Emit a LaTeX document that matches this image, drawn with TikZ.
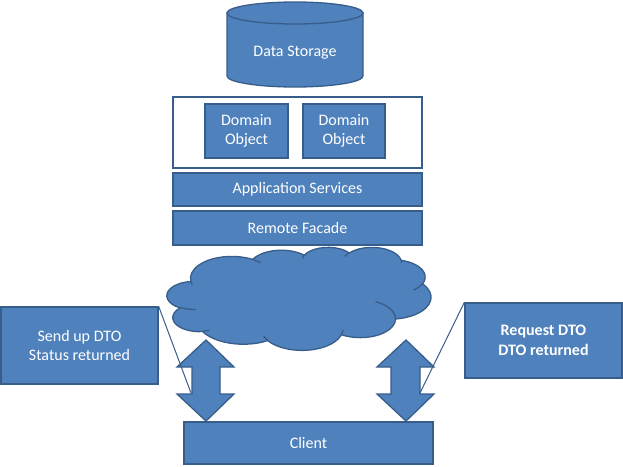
\documentclass[tikz,border=0pt]{standalone}
\usepackage{fontspec}
\setmainfont{Carlito}
\definecolor{fillb}{HTML}{4F81BD}
\definecolor{lineb}{HTML}{385D8A}
\begin{document}
\begin{tikzpicture}[x=1pt,y=-1pt,
  txt/.style={font=\fontsize{16}{19.5}\selectfont, text=white, align=center},
  box/.style={draw=lineb, fill=fillb, line width=1.3pt, txt, inner sep=0pt},
  frame/.style={draw=lineb, fill=white, line width=1.6pt, inner sep=0pt},
  shapeb/.style={draw=lineb, fill=fillb, line width=1.3pt},
  callline/.style={draw=lineb, line width=1pt},
  oarc/.style n args={4}{insert path={arc[start angle={atan2(#1*sin(#3),#2*cos(#3))}, delta angle={Mod(atan2(#1*sin(#3+#4),#2*cos(#3+#4))-atan2(#1*sin(#3),#2*cos(#3)),360)}, x radius=#1, y radius=#2]}}]
\useasboundingbox (0,0) rectangle (623,466);
% data storage cylinder
\filldraw[shapeb] (227,13) -- (227,76) arc[start angle=180, end angle=0, x radius=68, y radius=11] -- (363,13) -- cycle;
\filldraw[shapeb] (295,13) ellipse [x radius=68, y radius=11];
\node[txt] (ds) at (295,53) {Data Storage};
% domain layer
\node[frame, minimum width=249pt, minimum height=71pt] (dom) at (297.5,132.5) {};
\node[box, minimum width=83pt, minimum height=54pt] (d1) at (246.5,131) {Domain\\Object};
\node[box, minimum width=82pt, minimum height=54pt] (d2) at (344,131) {Domain\\Object};
\node[box, minimum width=249pt, minimum height=33pt] (app) at (297.5,189.5) {Application Services};
\node[box, minimum width=249pt, minimum height=34pt] (rf) at (297.5,228) {Remote Facade};
% cloud
\begin{scope}[shift={(167,247)}, xscale=0.61111, yscale=0.23843]
\filldraw[shapeb] (39.00,143.70)
  [oarc={67.53}{91.90}{-190.487}{123.781}]
  [oarc={53.33}{72.67}{-144.102}{89.945}]
  [oarc={43.65}{59.45}{-145.808}{99.723}]
  [oarc={48.57}{65.95}{-130.986}{117.242}]
  [oarc={53.33}{72.73}{-78.709}{109.027}]
  [oarc={67.75}{92.20}{-46.267}{130.269}]
  [oarc={57.85}{78.67}{0.625}{114.033}]
  [oarc={67.52}{92.15}{22.452}{115.173}]
  [oarc={77.20}{105.43}{66.243}{75.711}]
  [oarc={43.60}{59.18}{-274.942}{146.736}]
  [oarc={43.45}{59.45}{-246.829}{152.519}] -- cycle;
\draw[draw=lineb, line width=1.3pt]
  (46.93,261.77) [oarc={43.45}{59.45}{86.742}{26.430}]
  (69.28,348.99) [oarc={43.60}{59.18}{73.610}{11.447}]
  (164.78,390.90) [oarc={67.52}{92.15}{137.624}{14.081}]
  (288.27,347.51) [oarc={67.52}{92.15}{6.453}{15.998}]
  (341.29,229.54) [oarc={57.85}{78.67}{-70.292}{70.917}]
  (417.98,153.54) [oarc={53.33}{72.73}{30.318}{27.752}]
  (383.24,54.26) [oarc={48.57}{65.95}{-13.744}{14.859}]
  (290.78,39.52) [oarc={48.57}{65.95}{-149.181}{18.195}]
  (221.41,47.20) [oarc={43.65}{59.45}{-163.494}{17.686}]
  (140.00,51.92) [oarc={67.53}{91.90}{-66.707}{12.319}]
  (41.27,157.89) [oarc={67.53}{91.90}{157.654}{11.858}];
\coordinate (net) at (216,216);
\end{scope}
% client
\node[box, minimum width=249pt, minimum height=42pt] (client) at (308.5,443) {Client};
% double arrows
\filldraw[shapeb] (206,340) -- (234,367) -- (220,367) -- (220,394) -- (234,394) -- (206,421) -- (177,394) -- (192,394) -- (192,367) -- (177,367) -- cycle;
\filldraw[shapeb] (406,340) -- (434,367) -- (420,367) -- (420,394) -- (434,394) -- (406,421) -- (377,394) -- (391,394) -- (391,367) -- (377,367) -- cycle;
% callouts
\node[box, minimum width=157pt, minimum height=77pt] (lc) at (79.5,345.5) {Send up DTO\\Status returned};
\node[box, minimum width=157pt, minimum height=75pt, font=\fontsize{16}{19.5}\selectfont\bfseries] (rc) at (543.5,340.5) {Request DTO\\DTO returned};
\coordinate (lp) at (191,393);
\coordinate (rp) at (420,393);
\draw[callline] (lc.north east) -- (lp);
\draw[callline] (rc.north west) -- (rp);
\end{tikzpicture}
\end{document}
